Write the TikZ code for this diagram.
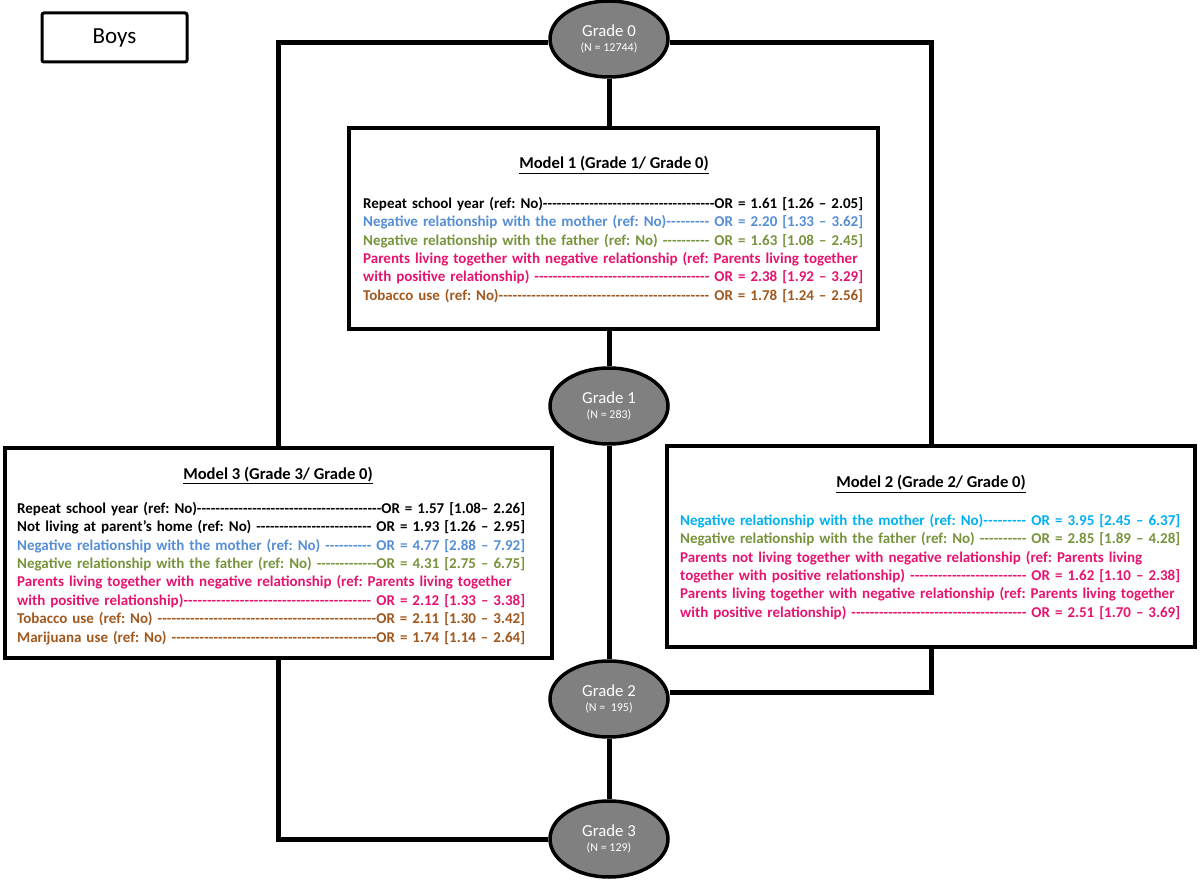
\documentclass[tikz,border=0pt]{standalone}
\usepackage{fontspec}
\setmainfont{Carlito}
\usetikzlibrary{positioning,shapes.geometric}

\definecolor{mblue}{RGB}{85,142,213}
\definecolor{mcyan}{RGB}{0,176,240}
\definecolor{fgreen}{RGB}{119,147,60}
\definecolor{ppink}{RGB}{230,20,110}
\definecolor{tbrown}{RGB}{160,88,30}

\newcommand{\orfill}{\xleaders\hbox{-}\hskip 0pt plus 1fill}
\frenchspacing

\begin{document}
\begin{tikzpicture}[x=1pt,y=-1pt]
  % 样式
  \tikzset{grade/.style = {ellipse, draw, line width=3.5pt, fill=gray, text=white, minimum width=118pt, minimum height=76pt, inner sep=0pt, align=center, font=\fontsize{16.8}{15}\selectfont}}
  \tikzset{modelbox/.style = {rectangle, draw, line width=3.5pt, inner sep=0pt}}
  \tikzset{title/.style = {anchor=base, inner sep=0pt, font=\bfseries\fontsize{16.6}{20}\selectfont}}
  \tikzset{txt/.style = {anchor=north west, inner sep=0pt, align=left, text width=500pt, font=\bfseries\fontsize{15}{18.4}\selectfont}}
  \tikzset{link/.style = {draw, line width=5pt}}
  \useasboundingbox (0,0) rectangle (1200,882);

  % 标签
  \node[draw, line width=3pt, rounded corners=2pt, minimum width=145pt, minimum height=49pt, font=\fontsize{23}{26}\selectfont] (boys) at (114.5,37.5) {Boys};

  % 年级
  \node[grade] (g0) at (609,39) {Grade 0\\{\fontsize{12}{13}\selectfont(N = 12744)}};
  \node[grade] (g1) at (609,406) {Grade 1\\{\fontsize{12}{13}\selectfont(N = 283)}};
  \node[grade] (g2) at (609,699) {Grade 2\\{\fontsize{12}{13}\selectfont(N =\ \ 195)}};
  \node[grade] (g3) at (609,839) {Grade 3\\{\fontsize{12}{13}\selectfont(N = 129)}};

  % 模型框
  \node[modelbox, minimum width=529pt, minimum height=201pt] (m1) at (613.5,228.5) {};
  \node[modelbox, minimum width=547pt, minimum height=210pt] (m3) at (278.5,553) {};
  \node[modelbox, minimum width=528pt, minimum height=201pt] (m2) at (931,546.5) {};

  % 模型 1
  \node[title] (m1t) at (614,169) {\underline{Model 1 (Grade 1/ Grade 0)}};
  \node[txt] (m1b) at (363,197) {%
    \textcolor{black}{Repeat school year (ref: No)\orfill OR = 1.61 [1.26 – 2.05]}\\
    \textcolor{mblue}{Negative relationship with the mother (ref: No)\orfill\ OR = 2.20 [1.33 – 3.62]}\\
    \textcolor{fgreen}{Negative relationship with the father (ref: No) \orfill\ OR = 1.63 [1.08 – 2.45]}\\
    \textcolor{ppink}{\mbox{Parents living together with negative relationship (ref: Parents living together}}\\
    \textcolor{ppink}{with positive relationship) \orfill\ OR = 2.38 [1.92 – 3.29]}\\
    \textcolor{tbrown}{Tobacco use (ref: No)\orfill\ OR = 1.78 [1.24 – 2.56]}};

  % 模型 3
  \node[title] (m3t) at (278,479) {\underline{Model 3 (Grade 3/ Grade 0)}};
  \node[txt, text width=508pt] (m3b) at (17,502) {%
    \textcolor{black}{Repeat school year (ref: No)\orfill OR = 1.57 [1.08– 2.26]}\\
    \textcolor{black}{Not living at parent’s home (ref: No) \orfill\ OR = 1.93 [1.26 – 2.95]}\\
    \textcolor{mblue}{Negative relationship with the mother (ref: No) \orfill\ OR = 4.77 [2.88 – 7.92]}\\
    \textcolor{fgreen}{Negative relationship with the father (ref: No) \orfill OR = 4.31 [2.75 – 6.75]}\\
    \textcolor{ppink}{\mbox{Parents living together with negative relationship (ref: Parents living together}}\\
    \textcolor{ppink}{with positive relationship)\orfill\ OR = 2.12 [1.33 – 3.38]}\\
    \textcolor{tbrown}{Tobacco use (ref: No) \orfill OR = 2.11 [1.30 – 3.42]}\\
    \textcolor{tbrown}{Marijuana use (ref: No) \orfill OR = 1.74 [1.14 – 2.64]}};

  % 模型 2
  \node[title] (m2t) at (931,488) {\underline{Model 2 (Grade 2/ Grade 0)}};
  \node[txt] (m2b) at (680,514) {%
    \textcolor{mcyan}{Negative relationship with the mother (ref: No)\orfill\ OR = 3.95 [2.45 – 6.37]}\\
    \textcolor{fgreen}{Negative relationship with the father (ref: No) \orfill\ OR = 2.85 [1.89 – 4.28]}\\
    \textcolor{ppink}{\mbox{Parents not living together with negative relationship (ref: Parents living}}\\
    \textcolor{ppink}{together with positive relationship) \orfill\ OR = 1.62 [1.10 – 2.38]}\\
    \textcolor{ppink}{\mbox{Parents living together with negative relationship (ref: Parents living together}}\\
    \textcolor{ppink}{with positive relationship) \orfill\ OR = 2.51 [1.70 – 3.69]}};

  % 连线
  \draw[link] (g0.south) -- (g0.south |- m1.north);
  \draw[link] (m1.south -| g1) -- (g1.north);
  \draw[link] (g1) -- (g2);
  \draw[link] (g2) -- (g3);
  \draw[link] ([yshift=-4pt]g0.west) -| (m3.north);
  \draw[link] ([yshift=-4pt]g0.east) -| (m2.north);
  \draw[link] (m3.south) |- (g3.west);
  \draw[link] (m2.south) |- ([yshift=7pt]g2.east);
\end{tikzpicture}
\end{document}
